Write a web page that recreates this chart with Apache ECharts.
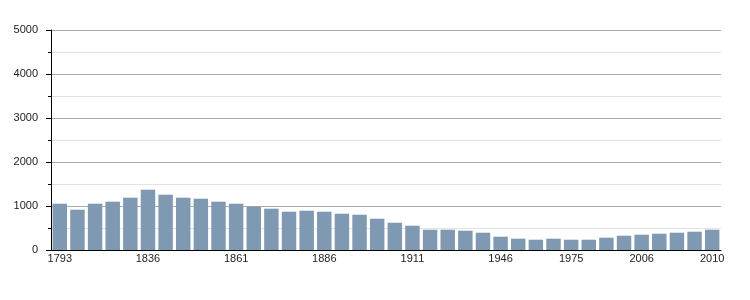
<!DOCTYPE html>
<html>
<head>
<meta charset="utf-8">
<script src="https://cdn.jsdelivr.net/npm/echarts@6/dist/echarts.min.js"></script>
<style>html,body{margin:0;padding:0;background:#fff}#c{width:750px;height:300px}</style>
</head>
<body>
<div id="c"></div>
<script>
const years = ['1793','1800','1806','1821','1831','1836','1841','1846','1851','1856','1861','1866','1872','1876','1881','1886','1891','1896','1901','1906','1911','1921','1926','1931','1936','1946','1954','1962','1968','1975','1982','1990','1999','2006','2007','2008','2009','2010'];
const population = [1052,916,1052,1098,1189,1371,1257,1189,1166,1098,1052,984,939,870,893,870,825,802,711,620,552,461,461,439,393,302,257,234,257,234,234,280,325,348,370,393,416,461];
const labelledYears = ['1793','1836','1861','1886','1911','1946','1975','2006','2010'];
const yTicks = [0,1000,2000,3000,4000,5000];

const chart = echarts.init(document.getElementById('c'), null, {renderer:'canvas'});
chart.setOption({
  animation:false,
  textStyle:{fontFamily:'Liberation Sans, Arial, sans-serif'},
  grid:{left:51,right:29,top:30,bottom:50,containLabel:false},
  xAxis:{
    type:'category',
    data:years,
    boundaryGap:true,
    axisLine:{lineStyle:{color:'#000',width:1}},
    axisTick:{show:false},
    axisLabel:{
      interval:(i,v)=>labelledYears.includes(v),
      color:'#222',fontSize:11,margin:3
    }
  },
  yAxis:{
    type:'value',
    min:yTicks[0],max:yTicks[yTicks.length-1],interval:1000,
    axisLine:{show:true,lineStyle:{color:'#000',width:1}},
    axisTick:{show:true,length:5,lineStyle:{color:'#000'}},
    minorTick:{show:true,splitNumber:2,length:3,lineStyle:{color:'#000'}},
    splitLine:{show:true,lineStyle:{color:'#aaa',width:1}},
    minorSplitLine:{show:true,lineStyle:{color:'#e2e2e2',width:1}},
    axisLabel:{color:'#222',fontSize:11,margin:13,formatter:(v)=>String(v)}
  },
  series:[{
    type:'bar',
    data:population,
    barCategoryGap:'18%',
    itemStyle:{color:'#7f99b2'}
  }]
});
</script>
</body>
</html>
